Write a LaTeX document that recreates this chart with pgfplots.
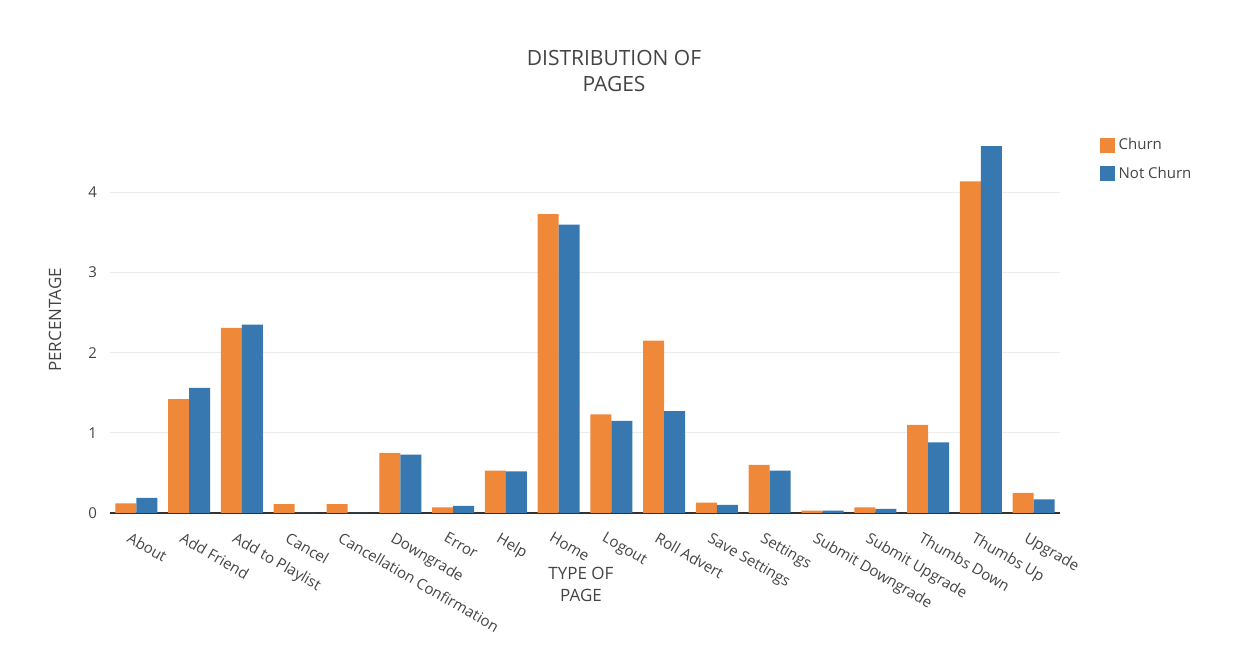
\documentclass[border=0pt]{standalone}
\usepackage{pgfplots}
\pgfplotsset{compat=1.18}
\usepackage{fontspec}
\setmainfont{Open Sans}
\definecolor{churn}{RGB}{240,136,58}
\definecolor{notchurn}{RGB}{55,120,176}
\definecolor{txt}{RGB}{68,68,68}
\begin{document}
\begin{tikzpicture}[x=0.5pt,y=0.5pt]
\path[use as bounding box] (0,0) rectangle (1235,663);
\node[txt,font=\fontsize{10.5}{13}\selectfont,align=center] at (614,592) {DISTRIBUTION OF\\PAGES};
\node[txt,font=\fontsize{8.5}{11}\selectfont,align=center] at (581,79) {TYPE OF\\PAGE};
\node[txt,font=\fontsize{8.5}{11}\selectfont,rotate=90] at (55,343) {PERCENTAGE};
\begin{axis}[at={(55pt,75pt)},anchor=south west,scale only axis,
 width=475pt,height=191.5pt,
 ybar, bar width=10.5pt,
 xmin=-0.5,xmax=17.5,ymin=0,ymax=4.78,
 xtick={0,...,17},
 xticklabels={About,Add Friend,Add to Playlist,Cancel,Cancellation Confirmation,Downgrade,Error,Help,Home,Logout,Roll Advert,Save Settings,Settings,Submit Downgrade,Submit Upgrade,Thumbs Down,Thumbs Up,Upgrade},
 xticklabel style={rotate=-30,anchor=north west,xshift=-3pt,yshift=-2pt,text=txt,font=\fontsize{7.5}{9}\selectfont},
 ytick={0,1,2,3,4},
 yticklabel style={text=txt,font=\fontsize{7.5}{9}\selectfont,xshift=-3pt},
 /pgf/number format/assume math mode=true,
 ymajorgrids, grid style={draw=black!8},
 axis line style={draw=none},
 tick style={draw=none},
 axis x line*=bottom,
 extra y ticks={0}, extra y tick style={grid style={draw=black!80,line width=0.6pt},yticklabels={}},
 legend style={at={(1.035,1.0)},anchor=north west,draw=none,fill=none,font=\fontsize{7.5}{9}\selectfont,text=txt,row sep=3pt,
   /tikz/every even column/.append style={column sep=6pt}},
 legend cell align=left,
 legend image code/.code={\fill[#1] (0pt,-3.5pt) rectangle (7.5pt,4pt);},
]
\addplot[fill=churn,draw=none,bar shift=-5.25pt] coordinates {(0,0.12)(1,1.42)(2,2.31)(3,0.11)(4,0.11)(5,0.75)(6,0.07)(7,0.53)(8,3.73)(9,1.23)(10,2.15)(11,0.13)(12,0.60)(13,0.03)(14,0.07)(15,1.10)(16,4.14)(17,0.25)};
\addplot[fill=notchurn,draw=none,bar shift=5.25pt] coordinates {(0,0.19)(1,1.56)(2,2.35)(3,0)(4,0)(5,0.73)(6,0.09)(7,0.52)(8,3.60)(9,1.15)(10,1.27)(11,0.10)(12,0.53)(13,0.03)(14,0.05)(15,0.88)(16,4.58)(17,0.17)};
\legend{Churn,Not Churn}
\end{axis}
\end{tikzpicture}
\end{document}
